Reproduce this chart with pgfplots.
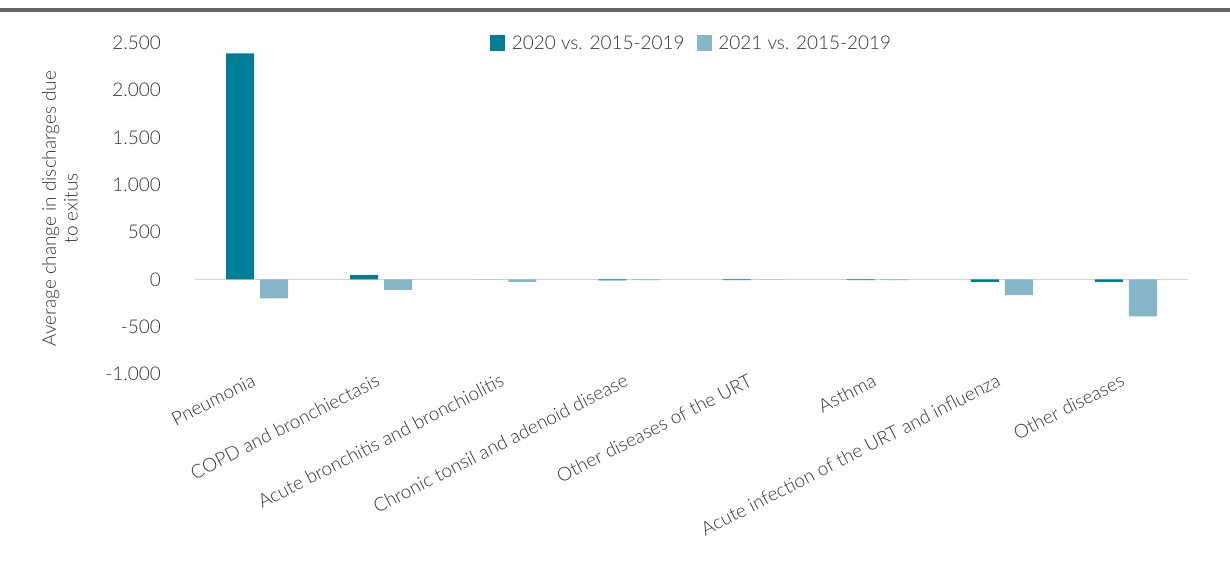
\documentclass[border=0pt]{standalone}
\usepackage{fontspec}
\setmainfont{Lato}[UprightFont={* Light}]
\usepackage{pgfplots}
\pgfplotsset{compat=1.18}
\definecolor{cA}{HTML}{007E98}
\definecolor{cB}{HTML}{86B7C8}
\definecolor{zl}{HTML}{D4D4D4}
\definecolor{topline}{HTML}{646464}
\definecolor{txt}{HTML}{333333}
\begin{document}
\begin{tikzpicture}
\path (0,0) rectangle (1230bp,563bp);
\fill[topline] (0,551bp) rectangle (1230bp,555bp);
\begin{axis}[
  at={(195bp,189bp)}, anchor=south west,
  scale only axis, width=993bp, height=331bp,
  font=\fontsize{19}{22}\selectfont,
  ybar=6bp, bar width=28bp,
  xmin=-0.5, xmax=7.5, ymin=-1000, ymax=2500,
  axis line style={draw=none},
  major tick length=0pt,
  xtick=data,
  xticklabels={Pneumonia,COPD and bronchiectasis,Acute bronchitis and bronchiolitis,Chronic tonsil and adenoid disease,Other diseases of the URT,Asthma,Acute infection of the URT and influenza,Other diseases},
  xticklabel style={rotate=27, anchor=north east, inner sep=1bp, xshift=-4bp, yshift=5bp, text=txt},
  ytick={-1000,-500,0,500,1000,1500,2000,2500},
  yticklabels={-1.000,-500,0,500,1.000,1.500,2.000,2.500},
  yticklabel style={anchor=east, inner sep=0pt, xshift=-34bp, text=txt},
  ylabel={Average change in discharges due\\to exitus},
  ylabel style={at={(axis description cs:-0.136,0.5)}, anchor=center, align=center, text=txt},
  legend style={at={(0.5,1.0)}, anchor=center, draw=none, fill=none, legend columns=2,
    /tikz/every odd column/.append style={column sep=5bp},
    /tikz/every even column/.append style={column sep=10bp}, text=txt},
  legend image code/.code={\fill[#1] (0bp,-7.5bp) rectangle (15bp,7.5bp);},
  clip=false,
]
\draw[zl, line width=1.5bp] (axis cs:-0.5,0) -- (axis cs:7.5,0);
\addplot[fill=cA, draw=none] coordinates {(0,2390) (1,45) (2,0) (3,-10) (4,-8) (5,-8) (6,-25) (7,-25)};
\addplot[fill=cB, draw=none] coordinates {(0,-200) (1,-110) (2,-25) (3,-8) (4,0) (5,-8) (6,-165) (7,-390)};
\legend{2020 vs. 2015-2019, 2021 vs. 2015-2019}
\end{axis}
\end{tikzpicture}
\end{document}
